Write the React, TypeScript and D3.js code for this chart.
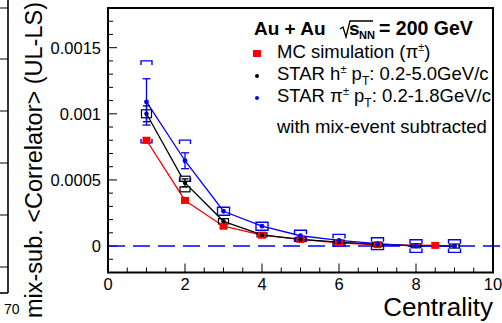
import React from "react";
import * as d3 from "d3";

// ---- data ----
const xMC = [1, 2, 3, 4, 5, 6, 7, 8.5];
const mcVals = [0.0008, 0.000345, 0.00015, 0.000082, 0.00005, 0.000025, 0.00001, 0.000005];

const xStar = [1, 2, 3, 4, 5, 6, 7, 8, 9];
const hVals = [0.001, 0.000478, 0.000187, 0.000085, 0.00005, 0.00003, 0.000012, 0.000002, 0.0];
const hStat = [0.00006, 0.00003, 0.000012, 0.000008, 0.000006, 0.000006, 0.000006, 0.000006, 0.000006];
const hSysHi = [0.00003, 0.00005, 0.00002, 0.000015, 0.000015, 0.000015, 0.000015, 0.000015, 0.000015];
const hSysLo = [0.00003, 0.000068, 0.00002, 0.000015, 0.000015, 0.000015, 0.000015, 0.000015, 0.000015];

const piVals = [0.00109, 0.000645, 0.000263, 0.00015, 0.000078, 0.000043, 0.000018, 0.0, 0.0];
const piStat = [0.000175, 0.00006, 0.00001, 0.00001, 0.00001, 0.00001, 0.00001, 0.00001, 0.00001];
const piSys = [0.00031, 0.000156, 0.00003, 0.00003, 0.000042, 0.000045, 0.000045, 0.000048, 0.000048];

const yTicksMajor = [0, 0.0005, 0.001, 0.0015];
const yTickLabels = ["0", "0.0005", "0.001", "0.0015"];
const xTicksMajor = [0, 2, 4, 6, 8, 10];

const legendItems = ["MC simulation", "STAR h", "STAR \u03c0"];

export default function App() {
  const W = 502, H = 323;
  const L = 108, R = 493, T = 8, B = 272.5;
  const x = d3.scaleLinear().domain([0, 10]).range([L, R]);
  const y = d3.scaleLinear().domain([-0.0002, 0.0018]).range([B, T]);
  const font = "'Liberation Sans', Arial, sans-serif";
  const red = "#ff0000", blue = "#0000ff", black = "#000";

  const line = d3.line<[number, number]>().x(d => x(d[0])).y(d => y(d[1]));
  const mcLine = line(xMC.map((v, i) => [v, mcVals[i]]))!;
  const hLine = line(xStar.map((v, i) => [v, hVals[i]]))!;
  const piLine = line(xStar.map((v, i) => [v, piVals[i]]))!;

  const yMinor = d3.range(-0.0002, 0.00181, 0.0001);
  const xMinor = d3.range(0, 10.01, 0.5);
  const lf = 18.5;

  return (
    <svg width={W} height={H} style={{ position: "absolute", left: 0, top: 0, background: "#fff" }}>
      <rect x={0} y={0} width={W} height={H} fill="#fff" />
      {/* fragment of neighbouring chart */}
      <line x1={8} y1={0} x2={8} y2={293} stroke="#000" strokeWidth={1.6} />
      <line x1={0} y1={293} x2={8} y2={293} stroke="#000" strokeWidth={1.6} />
      {[8, 59, 111, 163, 215, 267].map((t, i) => (
        <line key={i} x1={0} x2={8} y1={t} y2={t} stroke="#000" strokeWidth={1} />
      ))}
      <text x={4} y={314} fontFamily={font} fontSize={14}>70</text>

      {/* y-axis label */}
      <text transform={`translate(42,${160}) rotate(-90)`} textAnchor="middle" fontFamily={font} fontSize={23.5}>
        mix-sub. &lt;Correlator&gt; (UL-LS)
      </text>

      {/* ticks */}
      {yMinor.map((v, i) => {
        const major = yTicksMajor.some(m => Math.abs(m - v) < 1e-9);
        return <line key={"ym" + i} x1={L} x2={L + (major ? 9 : 5)} y1={y(v)} y2={y(v)} stroke="#000" strokeWidth={1} />;
      })}
      {xMinor.map((v, i) => {
        const major = xTicksMajor.some(m => Math.abs(m - v) < 1e-9);
        return <line key={"xm" + i} x1={x(v)} x2={x(v)} y1={B} y2={B - (major ? 9 : 5)} stroke="#000" strokeWidth={1} />;
      })}
      {yTicksMajor.map((v, i) => (
        <text key={"yl" + i} x={101} y={y(v) + 6} textAnchor="end" fontFamily={font} fontSize={16.5}>{yTickLabels[i]}</text>
      ))}
      {xTicksMajor.map((v, i) => (
        <text key={"xl" + i} x={x(v)} y={290} textAnchor="middle" fontFamily={font} fontSize={16.5}>{v}</text>
      ))}
      <text x={493} y={316} textAnchor="end" fontFamily={font} fontSize={26}>Centrality</text>

      {/* zero line */}
      <line x1={L} x2={W} y1={y(0)} y2={y(0)} stroke={blue} strokeWidth={1.5} strokeDasharray="17,8" />

      {/* lines */}
      <path d={mcLine} fill="none" stroke={red} strokeWidth={1.3} />
      <path d={hLine} fill="none" stroke={black} strokeWidth={1.3} />
      <path d={piLine} fill="none" stroke={blue} strokeWidth={1.3} />

      {/* pi systematic brackets */}
      {xStar.map((xv, i) => {
        const cx = x(xv);
        const hw = i < 2 ? 5.5 : 6;
        const yt = y(piVals[i] + piSys[i]);
        const yb = y(piVals[i] - piSys[i]);
        const d = Math.min(4, (yb - yt) / 2 + 0.5);
        return (
          <g key={"ps" + i} stroke={blue} strokeWidth={1.4} fill="none">
            <path d={`M${cx - hw},${yt + d}V${yt}H${cx + hw}V${yt + d}`} />
            <path d={`M${cx - hw},${yb - d}V${yb}H${cx + hw}V${yb - d}`} />
          </g>
        );
      })}

      {/* h systematic boxes */}
      {xStar.map((xv, i) => {
        const cx = x(xv);
        const hw = 5;
        const yt = y(hVals[i] + hSysHi[i]);
        const yb = y(hVals[i] - hSysLo[i]);
        const span = yb - yt;
        if (span < 10) {
          return <rect key={"hs" + i} x={cx - hw} y={yt} width={2 * hw} height={span} fill="none" stroke={black} strokeWidth={1.2} />;
        }
        return (
          <g key={"hs" + i} fill="#fff" stroke={black} strokeWidth={1.2}>
            <rect x={cx - hw} y={yt} width={2 * hw} height={5} />
            <rect x={cx - hw} y={yb - 5} width={2 * hw} height={5} />
          </g>
        );
      })}

      {/* MC squares */}
      {xMC.map((xv, i) => (
        <rect key={"mc" + i} x={x(xv) - 4} y={y(mcVals[i]) - 3.5} width={8} height={7} fill={red} />
      ))}

      {/* h stat error bars + points */}
      {xStar.map((xv, i) => {
        const cx = x(xv);
        const yt = y(hVals[i] + hStat[i]);
        const yb = y(hVals[i] - hStat[i]);
        return (
          <g key={"hp" + i} stroke={black} strokeWidth={1.3}>
            <line x1={cx} x2={cx} y1={yt} y2={yb} />
            {i < 2 && <line x1={cx - 3.5} x2={cx + 3.5} y1={yt} y2={yt} />}
            {i < 2 && <line x1={cx - 3.5} x2={cx + 3.5} y1={yb} y2={yb} />}
            <circle cx={cx} cy={y(hVals[i])} r={2.2} fill={black} stroke="none" />
          </g>
        );
      })}

      {/* pi stat error bars + points */}
      {xStar.map((xv, i) => {
        const cx = x(xv);
        const yt = y(piVals[i] + piStat[i]);
        const yb = y(piVals[i] - piStat[i]);
        return (
          <g key={"pp" + i} stroke={blue} strokeWidth={1.3}>
            <line x1={cx} x2={cx} y1={yt} y2={yb} />
            {i < 2 && <line x1={cx - 4} x2={cx + 4} y1={yt} y2={yt} />}
            {i < 2 && <line x1={cx - 4} x2={cx + 4} y1={yb} y2={yb} />}
            <circle cx={cx} cy={y(piVals[i])} r={2.4} fill={blue} stroke="none" />
          </g>
        );
      })}

      {/* frame */}
      <rect x={L} y={T} width={R - L} height={B - T} fill="none" stroke="#000" strokeWidth={2} />

      {/* legend title */}
      <text x={254} y={35} fontFamily={font} fontSize={19} fontWeight="bold">Au + Au</text>
      <path d="M340,29 L343,27 L346,37 L350,21 H373" fill="none" stroke="#000" strokeWidth={1.3} />
      <text x={349} y={35} fontFamily={font} fontSize={19} fontWeight="bold">s</text>
      <text x={359} y={39} fontFamily={font} fontSize={11} fontWeight="bold">NN</text>
      <text x={379} y={35} fontFamily={font} fontSize={19.5} fontWeight="bold">= 200 GeV</text>

      {/* legend entries */}
      <rect x={253} y={50} width={8} height={7} fill={red} />
      <circle cx={257} cy={76} r={2} fill={black} />
      <circle cx={257} cy={98} r={2} fill={blue} />
      <text x={277} y={58} fontFamily={font} fontSize={lf}>
        {legendItems[0]} ({"\u03c0"}<tspan fontSize={11} dy={-7}>{"\u00b1"}</tspan><tspan dy={7}>)</tspan>
      </text>
      <text x={277} y={80} fontFamily={font} fontSize={lf}>
        {legendItems[1]}<tspan fontSize={11} dy={-7}>{"\u00b1"}</tspan><tspan dy={7}> p</tspan>
        <tspan fontSize={12} dy={5}>T</tspan><tspan dy={-5}>: 0.2-5.0GeV/c</tspan>
      </text>
      <text x={277} y={102} fontFamily={font} fontSize={lf}>
        {legendItems[2]}<tspan fontSize={11} dy={-7}>{"\u00b1"}</tspan><tspan dy={7}> p</tspan>
        <tspan fontSize={12} dy={5}>T</tspan><tspan dy={-5}>: 0.2-1.8GeV/c</tspan>
      </text>
      <text x={277} y={133} fontFamily={font} fontSize={lf}>with mix-event subtracted</text>
    </svg>
  );
}
